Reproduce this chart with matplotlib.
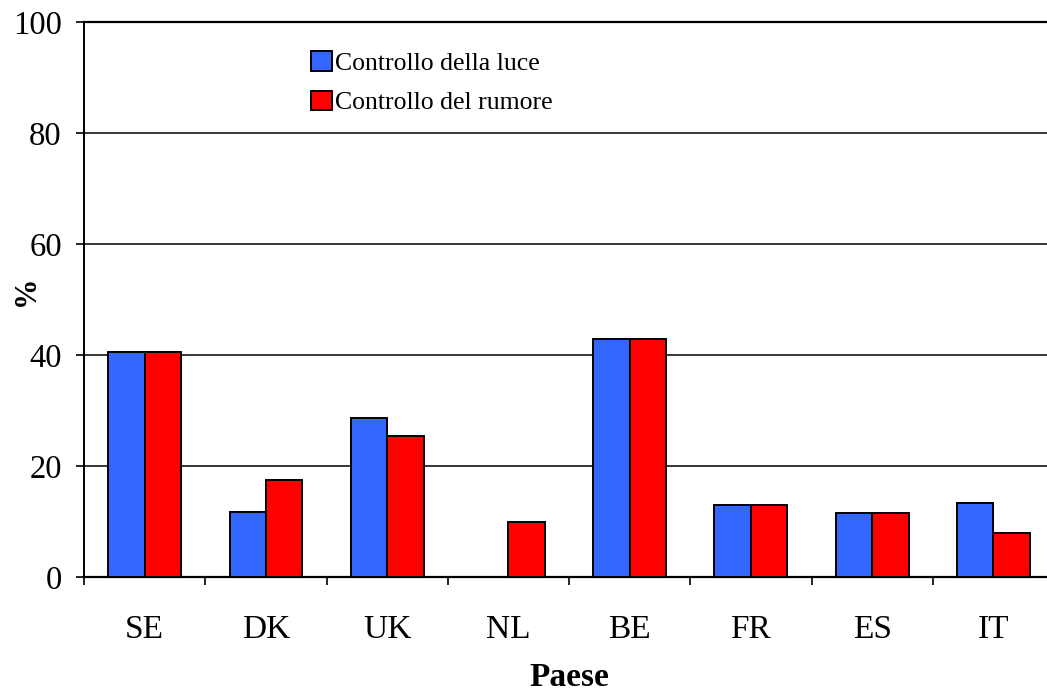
import matplotlib
matplotlib.use("Agg")
import matplotlib.pyplot as plt
import numpy as np

categories = ["SE", "DK", "UK", "NL", "BE", "FR", "ES", "IT"]
series_names = ["Controllo della luce", "Controllo del rumore"]
luce = [40.6, 11.7, 28.6, 0.0, 42.8, 13.0, 11.5, 13.3]
rumore = [40.6, 17.5, 25.4, 9.9, 42.8, 13.0, 11.5, 7.9]
yticks = [0, 20, 40, 60, 80, 100]

plt.rcParams['font.family'] = ['Liberation Serif', 'DejaVu Serif']

W, H = 1047, 691
fig = plt.figure(figsize=(W / 100, H / 100), dpi=100)
left, right, bottom, top = 84, 1054, 577, 22
ax = fig.add_axes([left / W, 1 - bottom / H, (right - left) / W, (bottom - top) / H])

x = np.arange(len(categories))
bw = 0.3
ax.bar(x - bw / 2, luce, bw, color="#3366FF", edgecolor="black", linewidth=1.4,
       label=series_names[0], zorder=3)
ax.bar(x + bw / 2, rumore, bw, color="#FF0000", edgecolor="black", linewidth=1.4,
       label=series_names[1], zorder=3)

ax.set_xlim(-0.5, len(categories) - 0.5)
ax.set_ylim(0, 100)
ax.set_yticks(yticks)
ax.set_yticklabels([str(v) for v in yticks], fontsize=23.5)
for v in yticks[1:]:
    ax.axhline(v, color="black", linewidth=1.1, zorder=1)

ax.set_xticks(x)
ax.set_xticklabels(categories, fontsize=24)
ax.set_xticks(np.arange(len(categories) + 1) - 0.5, minor=True)
ax.tick_params(axis="x", which="major", length=0, pad=27)
ax.tick_params(axis="x", which="minor", length=6, width=1.2, direction="out")
ax.tick_params(axis="y", which="major", length=6, width=1.2, direction="out", pad=10)

ax.spines["right"].set_visible(False)
ax.spines["top"].set_linewidth(1.6)
ax.spines["left"].set_linewidth(1.4)
ax.spines["bottom"].set_linewidth(1.6)

ax.set_xlabel("Paese", fontsize=24, fontweight="bold", labelpad=12)
ax.set_ylabel("%", fontsize=22, fontweight="bold")
ax.yaxis.set_label_coords(-0.044, 0.515)

leg = ax.legend(loc="upper left", bbox_to_anchor=(311 / W, 1 - 51 / H),
                bbox_transform=fig.transFigure, frameon=False, fontsize=18.5,
                handlelength=0.8, handleheight=0.8, handletextpad=0.15,
                labelspacing=0.62, borderpad=0, borderaxespad=0)

fig.savefig("out.png", dpi=100)
